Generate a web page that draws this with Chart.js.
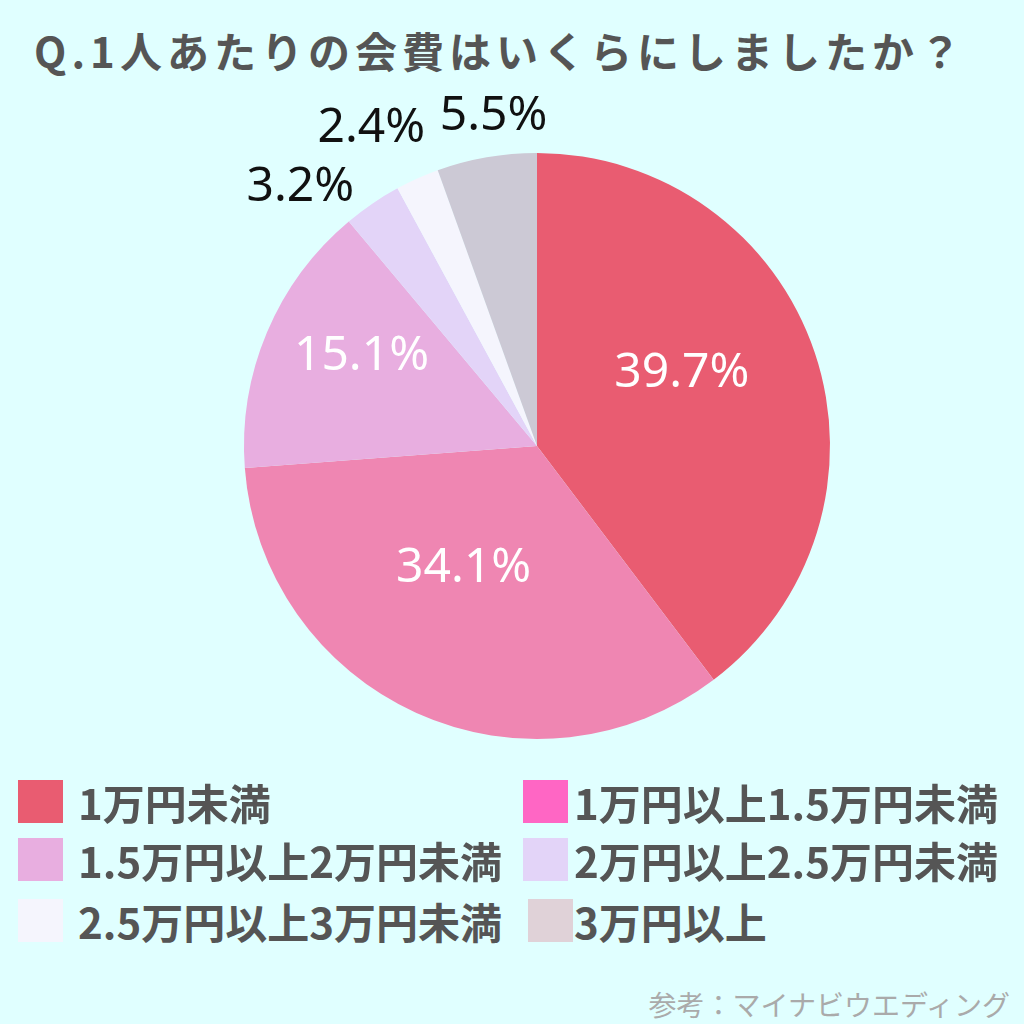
<!DOCTYPE html>
<html lang="ja">
<head>
<meta charset="utf-8">
<title>Q.1人あたりの会費はいくらにしましたか？</title>
<script src="https://cdn.jsdelivr.net/npm/chart.js@4"></script>
<style>
  body { margin: 0; width: 1024px; height: 1024px; background: #e0ffff; position: relative; overflow: hidden;
         font-family: "Noto Sans CJK JP", "Noto Sans", sans-serif; }
  #title { position: absolute; left: 0; width: 1000px; top: 22px; text-align: center;
           font-size: 42px; font-weight: bold; color: #555; line-height: 56px; letter-spacing: 5px; }
  #wrap { position: absolute; left: 187px; top: 96px; width: 700px; height: 700px; }
  .leg { position: absolute; height: 43px; display: flex; align-items: center; }
  .leg .box { width: 45px; height: 43px; }
  .leg .txt { font-size: 42px; font-weight: bold; color: #555; line-height: 43px; white-space: nowrap; }
  #src { position: absolute; right: 14px; top: 984px; font-size: 28px; color: #aaa; }
</style>
</head>
<body>
<div id="title">Q.1人あたりの会費はいくらにしましたか？</div>
<div id="wrap"><canvas id="myChart" width="700" height="700"></canvas></div>
<div id="legend"></div>
<div id="src">参考：マイナビウエディング</div>
<script>
var categories = ['1万円未満', '1万円以上1.5万円未満', '1.5万円以上2万円未満', '2万円以上2.5万円未満', '2.5万円以上3万円未満', '3万円以上'];
var shares = [39.7, 34.1, 15.1, 3.2, 2.4, 5.5];
var sliceColors = ['#e95c71', '#ef86b2', '#e8aee0', '#e3d4f8', '#f5f5fd', '#ccc9d5'];
var legendColors = ['#e95c71', '#ff66c4', '#e8aee0', '#e3d4f8', '#f5f5fd', '#e0d2d8'];

// legend, two columns
var legPos = [
    [18, 780, 78], [523, 780, 574],
    [18, 838, 78], [523, 838, 574],
    [18, 899, 78], [528, 899, 574]
];
var legend = document.getElementById('legend');
categories.forEach(function (c, i) {
    var p = legPos[i];
    var d = document.createElement('div');
    d.className = 'leg';
    d.style.left = p[0] + 'px';
    d.style.top = p[1] + 'px';
    d.innerHTML = '<div class="box" style="background:' + legendColors[i] + '"></div>' +
        '<div class="txt" style="margin-left:' + (p[2] - p[0] - 45) + 'px">' + c + '</div>';
    legend.appendChild(d);
});

// label nudges in px (the original labels are not exactly on the mid angle)
var nudge = [[-8, -21], [-7, -25], [-27, -27], [-39, 32], [-22, 3], [17, 17]];

const pctLabels = {
    id: 'pctLabels',
    afterDatasetsDraw(chart) {
        const ctx = chart.ctx;
        const meta = chart.getDatasetMeta(0);
        ctx.save();
        ctx.font = '48px "Noto Sans", sans-serif';
        ctx.textAlign = 'center';
        ctx.textBaseline = 'middle';
        meta.data.forEach(function (arc, i) {
            const p = arc.getProps(['x', 'y', 'startAngle', 'endAngle', 'outerRadius'], true);
            const mid = (p.startAngle + p.endAngle) / 2;
            const inside = shares[i] >= 10;
            const r = p.outerRadius * (inside ? 0.55 : 1.2);
            const x = p.x + Math.cos(mid) * r + nudge[i][0];
            const y = p.y + Math.sin(mid) * r + nudge[i][1];
            ctx.fillStyle = inside ? '#ffffff' : '#111111';
            ctx.fillText(shares[i].toFixed(1) + '%', x, y);
        });
        ctx.restore();
    }
};

const ctx = document.getElementById('myChart').getContext('2d');
var myChart = new Chart(ctx, {
    type: 'pie',
    data: {
        labels: categories,
        datasets: [{
            data: shares,
            backgroundColor: sliceColors,
            borderWidth: 0
        }]
    },
    options: {
        responsive: false,
        animation: false,
        layout: { padding: 57 },
        plugins: {
            legend: { display: false },
            tooltip: { enabled: false }
        }
    },
    plugins: [pctLabels]
});
</script>
</body>
</html>
